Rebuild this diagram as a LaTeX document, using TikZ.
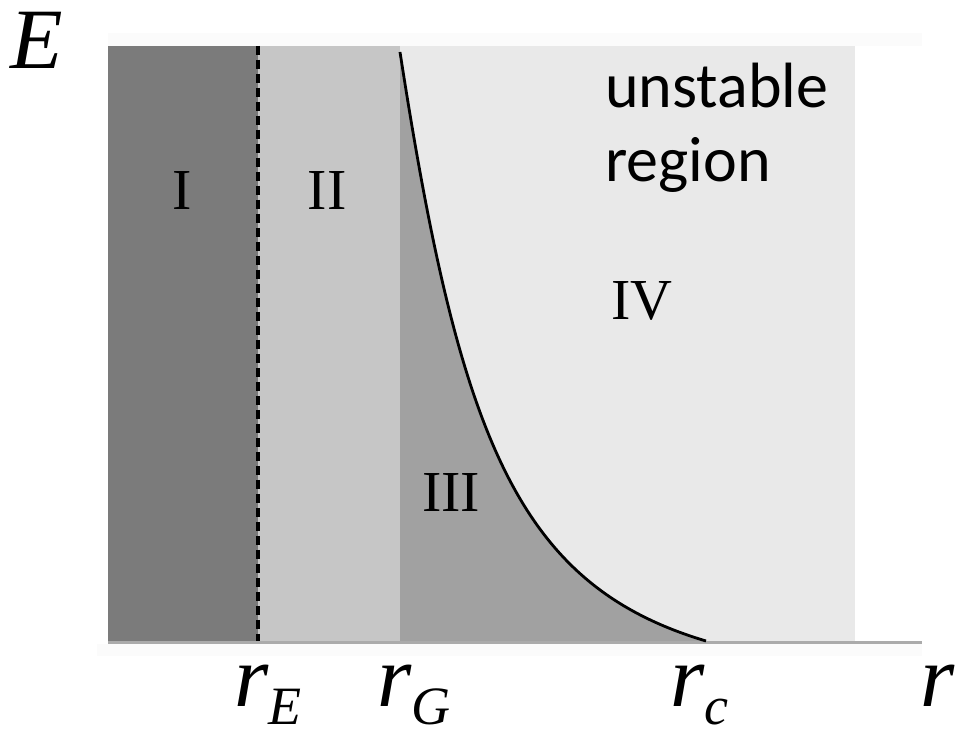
\documentclass[tikz,border=0pt]{standalone}
\usepackage{fontspec}
\setmainfont{Liberation Serif}
\newfontfamily\labelsans{Carlito}
\definecolor{zoneI}{HTML}{7B7B7B}
\definecolor{zoneII}{HTML}{C6C6C6}
\definecolor{zoneIII}{HTML}{A1A1A1}
\definecolor{zoneIV}{HTML}{E9E9E9}
\newcommand{\lowsub}[2]{\raisebox{-#1pt}{\fontsize{54}{54}\selectfont #2}}

\begin{document}
\begin{tikzpicture}[x=1pt,y=-1pt]
\useasboundingbox (0,0) rectangle (959,738);
\tikzset{roman/.style={font=\fontsize{58}{58}\selectfont, inner sep=0pt},
  axislab/.style={font=\fontsize{88}{88}\selectfont\itshape, inner sep=0pt, anchor=base west}}
% faint bands round the plot
\fill[black!1.5] (108,33) rectangle (922,46);
\fill[black!1.5] (97,644) rectangle (922,656);
% the four zones
\fill[zoneIV] (400,46) rectangle (855,641);
\fill[zoneI] (108,46) rectangle (258,641);
\fill[zoneII] (258,46) rectangle (400,641);
\fill[zoneIII] (400,52) .. controls (460,440) and (518,585) .. (706,641) -- (400,641) -- cycle;
% r axis
\draw[black!33, line width=3pt] (108,642) -- (922,642);
% r_E boundary and the critical curve
\draw[line width=4pt, dash pattern=on 9pt off 5pt] (258,46) -- (258,641);
\draw[line width=2.8pt] (400,52) .. controls (460,440) and (518,585) .. (706,641);
% zone labels
\node[roman] (zI) at (182,191) {I};
\node[roman] (zII) at (327,191) {II};
\node[roman] (zIII) at (451,493) {III};
\node[roman] (zIV) at (642,301) {IV};
\node[font=\labelsans\fontsize{64}{74}\selectfont, align=left, inner sep=0pt, anchor=north west] (unst) at (605,63) {unstable\\region};
% axis labels
\node[font=\fontsize{86}{86}\selectfont\itshape, inner sep=0pt] (E) at (37,40) {E};
\node[axislab] (rE) at (234,706) {r\lowsub{18}{E}};
\node[axislab] (rG) at (377,706) {r\lowsub{18}{G}};
\node[axislab] (rc) at (670,706) {r\lowsub{18}{c}};
\node[axislab] (r) at (920,706) {r};
\end{tikzpicture}
\end{document}
